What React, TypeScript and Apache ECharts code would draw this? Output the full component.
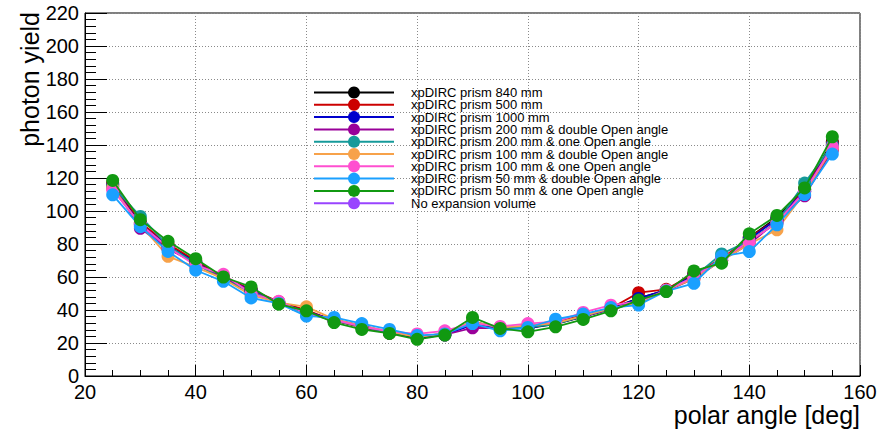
import React, { useEffect, useRef } from "react";
import * as echarts from "echarts";

const angles = [25, 30, 35, 40, 45, 50, 55, 60, 65, 70, 75, 80, 85, 90, 95, 100, 105, 110, 115, 120, 125, 130, 135, 140, 145, 150, 155];

const seriesNames = [
  "xpDIRC prism 840 mm",
  "xpDIRC prism 500 mm",
  "xpDIRC prism 1000 mm",
  "xpDIRC prism 200 mm & double Open angle",
  "xpDIRC prism 200 mm & one Open angle",
  "xpDIRC prism 100 mm & double Open angle",
  "xpDIRC prism 100 mm & one Open angle",
  "xpDIRC prism 50 mm & double Open angle",
  "xpDIRC prism 50 mm & one Open angle",
  "No expansion volume",
];

const seriesColors = ["#000000", "#cc0000", "#0000cc", "#990099", "#169a9a", "#f7a24a", "#ff4fd0", "#1aa0ff", "#119911", "#9944ff"];
const seriesZ = [3, 3, 3, 3, 3, 3, 3, 5, 6, 2];

const prism840 = [116, 92.5, 79, 69.5, 59.5, 52, 44, 39.5, 33.5, 30, 26, 23, 25, 33, 29, 29, 31.5, 36, 41, 47, 52, 62, 70, 84, 96, 113, 142];
const prism500 = [117, 93, 80, 70, 60, 52.5, 45, 40, 33.5, 29.5, 26, 23.5, 25.5, 32, 29.5, 30, 32, 37, 41, 50.5, 52.5, 62, 71, 84, 95, 113, 141];
const prism1000 = [115, 92, 78.5, 69, 59, 52, 44.5, 39, 34, 30.5, 26.5, 23.5, 25, 31, 28.5, 29, 32, 36, 40.5, 47, 52, 61, 70, 83, 95, 112, 140];
const prism200Double = [116, 89.5, 77, 68.5, 59.5, 51.5, 44.5, 38.5, 34, 30, 26, 24, 25, 29.2, 29, 30, 32, 36, 40.5, 45, 51.5, 59, 70, 80, 94, 109.2, 137];
const prism200One = [115, 96.7, 79, 68, 58.5, 51, 44, 38, 33.5, 30, 26.5, 24, 25.5, 33, 29, 29.5, 31.5, 36.5, 41, 44, 52, 60, 74, 82, 93, 116.9, 140];
const prism100Double = [114, 91.5, 72.5, 66, 59, 49, 44.5, 41.9, 34.5, 30.5, 27, 23.5, 26, 33, 29.5, 30.5, 32, 36.5, 41, 44.5, 52, 59, 70, 80, 88.6, 111, 138];
const prism100One = [112.8, 92, 78, 67, 61.6, 50, 45.3, 38, 34, 30, 27, 25.5, 27.4, 32, 30, 31.8, 33, 38.5, 42.9, 45, 52, 60, 71, 81.5, 93, 112, 139];
const prism50Double = [109.8, 90.5, 75.5, 64.1, 57.4, 47.3, 44, 36.3, 35.5, 31.8, 28.2, 24.5, 25.5, 31.8, 27.4, 29.4, 34.4, 37.5, 41.5, 43, 51.5, 56.2, 72.5, 75.4, 91.6, 110, 134.5];
const prism50One = [118.5, 94.7, 81.6, 71.1, 60, 54, 43.5, 39.5, 32.4, 28.2, 25.8, 22.2, 24.8, 35.5, 28.8, 26.8, 29.8, 34.3, 39.5, 46, 51.2, 63.7, 68.4, 86.2, 97.3, 114, 145];
const noExpansion = [114, 91, 77.5, 68, 59, 51, 44, 38.5, 34, 30.5, 26.5, 24, 25.5, 31.5, 28.5, 30, 32.5, 37, 41, 46, 51.5, 60, 71, 81, 93, 112, 138];

const seriesValues = [prism840, prism500, prism1000, prism200Double, prism200One, prism100Double, prism100One, prism50Double, prism50One, noExpansion];

const FONT = '"Liberation Sans", Arial, Helvetica, sans-serif';

export default function App() {
  const ref = useRef<HTMLDivElement>(null);
  useEffect(() => {
    document.body.style.margin = "0";
    const chart = echarts.init(ref.current!, null, { renderer: "svg" });
    const gridLine = { show: true, lineStyle: { color: "#8a8a8a", type: [1, 2], width: 1 } };
    chart.setOption({
      animation: false,
      backgroundColor: "#ffffff",
      textStyle: { fontFamily: FONT },
      grid: { left: 85, right: 21, top: 13, bottom: 55, show: true, borderColor: "#000", borderWidth: 1, containLabel: false },
      xAxis: {
        type: "value",
        min: 20,
        max: 160,
        interval: 20,
        axisLine: { show: true, onZero: false, lineStyle: { color: "#000", width: 1 } },
        axisTick: { show: true, inside: true, length: 11, lineStyle: { color: "#000" } },
        minorTick: { show: true, splitNumber: 4, length: 6, lineStyle: { color: "#000" } },
        axisLabel: { color: "#000", fontSize: 20, fontFamily: FONT, margin: 6 },
        splitLine: gridLine,
      },
      yAxis: {
        type: "value",
        min: 0,
        max: 220,
        interval: 20,
        axisLine: { show: true, lineStyle: { color: "#000", width: 1 } },
        axisTick: { show: true, inside: true, length: 22, lineStyle: { color: "#000" } },
        minorTick: { show: true, splitNumber: 5, length: 11, lineStyle: { color: "#000" } },
        axisLabel: { color: "#000", fontSize: 20, fontFamily: FONT, margin: 6 },
        splitLine: gridLine,
      },
      legend: {
        show: true,
        orient: "vertical",
        left: 313,
        top: 86,
        itemWidth: 80,
        itemHeight: 15,
        itemGap: -0.7,
        padding: 0,
        textStyle: { color: "#000", fontSize: 13, fontFamily: FONT, lineHeight: 12, padding: [0, 0, 0, 12] },
        data: seriesNames,
      },
      graphic: [
        {
          type: "text",
          x: 30,
          y: 12,
          rotation: Math.PI / 2,
          style: { text: "photon yield", fontSize: 25, fontFamily: FONT, fill: "#000", textAlign: "right", textVerticalAlign: "middle" },
        },
        {
          type: "text",
          x: 860,
          y: 415,
          style: { text: "polar angle [deg]", fontSize: 25, fontFamily: FONT, fill: "#000", textAlign: "right", textVerticalAlign: "middle" },
        },
      ],
      series: seriesNames.map((name, i) => ({
        name,
        type: "line",
        z: seriesZ[i],
        symbol: "circle",
        symbolSize: 13,
        showSymbol: true,
        color: seriesColors[i],
        itemStyle: { color: seriesColors[i] },
        lineStyle: { color: seriesColors[i], width: 1.8 },
        data: angles.map((a, k) => [a, seriesValues[i][k]]),
      })),
    });
    return () => chart.dispose();
  }, []);
  return <div ref={ref} style={{ width: 881, height: 431 }} />;
}
